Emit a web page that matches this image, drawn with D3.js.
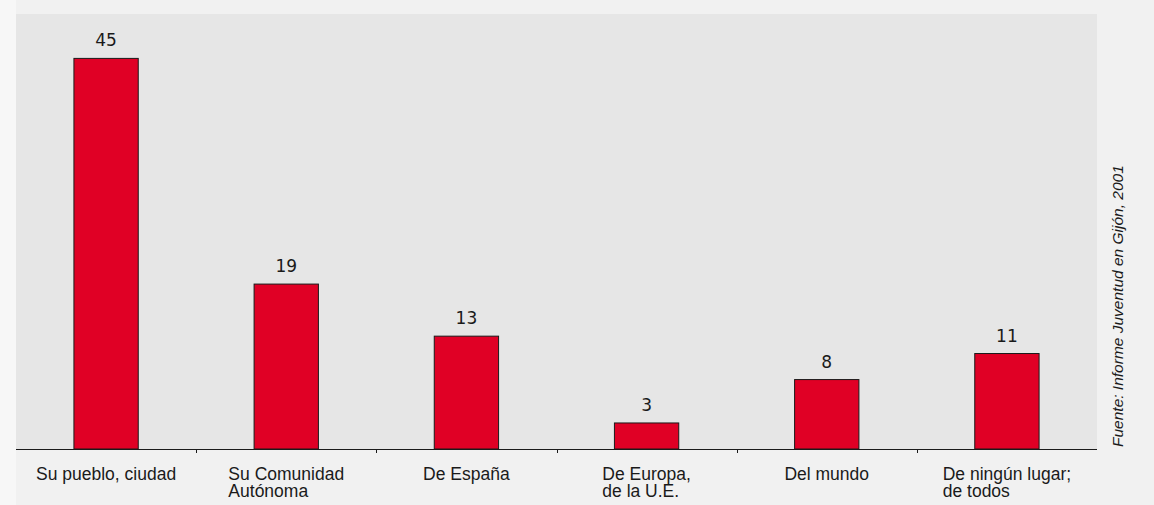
<!DOCTYPE html>
<html lang="es">
<head>
<meta charset="utf-8">
<title>Sentimiento de pertenencia</title>
<script src="https://d3js.org/d3.v7.min.js"></script>
<style>
  html, body { margin: 0; padding: 0; background: #f1f1f1; }
  svg { display: block; }
</style>
</head>
<body>
<script>
// datos
var categorias = ["Su pueblo, ciudad", "Su Comunidad\nAutónoma", "De España", "De Europa,\nde la U.E.", "Del mundo", "De ningún lugar;\nde todos"];
var valores = [45, 19, 13, 3, 8, 11];
var fuente = "Fuente: Informe Juventud en Gijón, 2001";

var w = 1154, h = 505;
var plot = { left: 16, right: 1097, top: 14, bottom: 449 };

var svg = d3.select("body").append("svg")
  .attr("width", w)
  .attr("height", h);

// fondo
svg.append("rect").attr("x", 0).attr("y", 0).attr("width", plot.left).attr("height", h).attr("fill", "#f7f7f7");
svg.append("rect")
  .attr("x", plot.left).attr("y", plot.top)
  .attr("width", plot.right - plot.left).attr("height", plot.bottom - plot.top)
  .attr("fill", "#e6e6e6");

var x = d3.scaleBand()
  .domain(categorias)
  .range([plot.left, plot.right])
  .padding(0);

var y = d3.scaleLinear()
  .domain([0, 50])
  .range([plot.bottom, plot.top + 1]);

var barW = x.bandwidth() * 0.357;

// barras
svg.selectAll("rect.bar")
  .data(valores)
  .enter()
  .append("rect")
  .attr("class", "bar")
  .attr("x", function(d, i) { return x(categorias[i]) + x.bandwidth() / 2 - barW / 2; })
  .attr("y", function(d) { return y(d); })
  .attr("width", barW)
  .attr("height", function(d) { return y(0) - y(d); })
  .attr("fill", "#e00025")
  .attr("stroke", "#1a1a1a")
  .attr("stroke-width", 1);

// valores
svg.selectAll("text.valor")
  .data(valores)
  .enter()
  .append("text")
  .attr("class", "valor")
  .attr("x", function(d, i) { return x(categorias[i]) + x.bandwidth() / 2; })
  .attr("y", function(d) { return y(d) - 12; })
  .attr("text-anchor", "middle")
  .attr("font-family", "DejaVu Sans")
  .attr("font-size", 17)
  .attr("fill", "#1a1a1a")
  .text(function(d) { return d; });

// eje
svg.append("line")
  .attr("x1", plot.left).attr("x2", plot.right)
  .attr("y1", plot.bottom + 0.5).attr("y2", plot.bottom + 0.5)
  .attr("stroke", "#1a1a1a");

svg.selectAll("line.tick")
  .data(categorias.slice(1))
  .enter()
  .append("line")
  .attr("class", "tick")
  .attr("x1", function(d) { return Math.round(x(d)) + 0.5; })
  .attr("x2", function(d) { return Math.round(x(d)) + 0.5; })
  .attr("y1", plot.bottom)
  .attr("y2", plot.bottom + 4)
  .attr("stroke", "#1a1a1a");

// etiquetas de categorías
categorias.forEach(function(c) {
  var lineas = c.split("\n");
  var g = svg.append("text")
    .attr("font-family", "Liberation Sans, Arial, sans-serif")
    .attr("font-size", 17.5)
    .attr("fill", "#1a1a1a");
  lineas.forEach(function(l, k) {
    g.append("tspan").attr("x", 0).attr("y", 480 + k * 16.5).text(l);
  });
  var maxW = d3.max(g.selectAll("tspan").nodes(), function(n) { return n.getComputedTextLength(); });
  var x0 = x(c) + x.bandwidth() / 2 - maxW / 2;
  g.selectAll("tspan").attr("x", x0);
});

// fuente
svg.append("text")
  .attr("transform", "translate(1123,447) rotate(-90)")
  .attr("font-family", "Liberation Sans, Arial, sans-serif")
  .attr("font-style", "italic")
  .attr("font-size", 15.5)
  .attr("fill", "#1a1a1a")
  .text(fuente);
</script>
</body>
</html>
